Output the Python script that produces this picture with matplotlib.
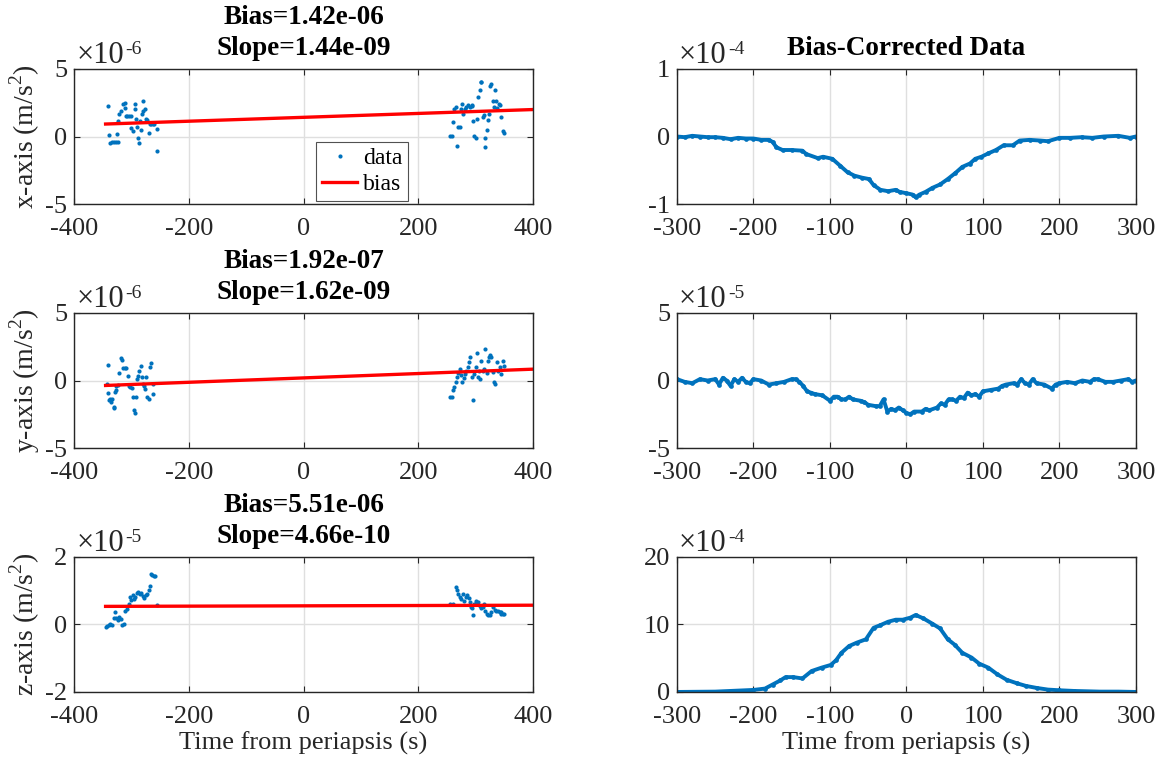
#accelerometer bias fit near periapsis and the bias-corrected data
import numpy as np
import matplotlib.pyplot as plt

plt.rcParams["font.family"] = ["Liberation Serif", "DejaVu Serif"]
plt.rcParams["mathtext.fontset"] = "custom"
plt.rcParams["mathtext.rm"] = "Liberation Serif"
plt.rcParams["axes.unicode_minus"] = False

BLUE = "#0072BD"
RED = "#FF0000"
DARK = "#262626"

#fit results (bias, slope) for each axis:
bias_vals = [1.42e-06, 1.92e-07, 5.51e-06]
slope_vals = [1.44e-09, 1.62e-09, 4.66e-10]
fit_span = [-345, 400]

#x-axis raw samples (units 1e-6 m/s^2):
x_t = [-340, -339, -337, -333, -330, -327, -324, -325, -323, -321, -318, -314, -312, -311,
       -310, -308, -305, -301, -300, -297, -294, -293, -292, -290, -289, -287, -285, -284,
       -282, -280, -279, -277, -275, -273, -270, -268, -266, -263, -260, -256, -255,
       255, 259, 261, 263, 265, 268, 270, 272, 274, 276, 278, 281, 284, 287, 290, 293, 294,
       296, 298, 300, 302, 305, 307, 309, 310, 312, 314, 316, 317, 319, 321, 323, 325, 327,
       330, 332, 334, 336, 338, 341, 343, 345, 347, 349]
x_v = [2.29, 0.12, -0.5, -0.42, -0.40, -0.42, -0.42, 0.2, 1.18, 1.67, 1.9, 2.4, 2.5, 2.1,
       1.55, 1.5, 1.5, 1.55, 0.64, 0.44, 2.0, 2.4, 1.3, 0.7, -0.1, -0.5, 1.18, 0.5,
       1.67, 1.9, 2.6, 2.0, 1.3, 1.2, 0.25, 0.93, 0.93, 0.93, 0.93, 0.56, -1.08,
       0.07, 0.07, 1.06, 2.04, 2.2, -0.74, 0.69, 0.69, 2.04, 2.4, 1.67, 2.04, 2.2, 2.3, 2.2, 2.29, 2.35,
       1.18, 0.07, -0.1, 1.3, 2.9, 3.45, 4.06, 4.06, 1.43, 1.6, -0.8, -0.12, 0.5, 1.2, 1.67,
       3.77, 3.9, 2.66, 2.2, 3.45, 2.66, 2.1, 2.4, 2.35, 1.43, 0.44, 0.25]

#y-axis raw samples (units 1e-6 m/s^2):
y_t = [-343, -341, -340, -339, -337, -335, -333, -331, -330, -329, -327, -326, -324, -322,
       -319, -317, -314, -312, -309, -306, -304, -302, -299, -297, -295, -294, -292, -290,
       -288, -286, -284, -282, -280, -278, -276, -274, -272, -270, -268, -266, -263, -262,
       255, 259, 261, 263, 265, 268, 270, 272, 274, 277, 280, 282, 284, 286, 288, 290, 293,
       295, 297, 300, 302, 304, 306, 308, 310, 312, 314, 317, 319, 321, 323, 325, 327, 330,
       332, 334, 337, 339, 342, 344, 347, 349]
y_v = [-0.24, 1.15, -0.93, -1.46, -1.34, -1.6, -1.4, -1.95, -2.0, -0.85, -0.73, -0.44, -0.3, 0.54,
       1.66, 1.5, 0.93, 0.93, 0.93, 0.37, -0.44, -0.49, -0.54, -1.22, -2.2, -2.44, -1.22, 0.12,
       0.37, 0.68, 1.1, 0.29, -0.29, -0.37, -0.61, 0.24, -1.22, -1.34, 0.98, 1.27, -1.02, -0.29,
       -1.22, -1.22, -0.73, -0.49, -0.12, 0.24, 0.54, 0.85, 0.44, -0.12, 0.2, 0.49, 0.73, 0.98, 1.34,
       1.76, 0.24, -1.41, 0.49, 0.98, 2.0, 0.24, 0.68, 0.12, 1.46, 0.73, 0.85, 2.32, 0.54, 1.46,
       1.76, 1.9, 1.76, 0.61, -0.12, -0.24, 1.34, 0.73, 1.02, 0.49, 1.46, 1.1]

#z-axis raw samples (units 1e-5 m/s^2):
z_t = [-344, -342, -339, -337, -334, -331, -328, -326, -323, -321, -318, -316, -313, -311,
       -308, -305, -303, -300, -298, -295, -293, -290, -288, -285, -283, -280, -278, -275,
       -273, -270, -268, -266, -264, -261, -258, -256,
       256, 261, 265, 268, 270, 273, 275, 278, 280, 283, 285, 288, 290, 292, 294, 296, 298,
       300, 302, 305, 307, 310, 312, 315, 317, 320, 322, 325, 327, 330, 333, 336, 339, 342,
       344, 345, 347, 349]
z_v = [-0.08, -0.05, -0.02, 0.0, -0.02, 0.2, 0.36, 0.2, 0.12, 0.22, 0.15, -0.02, 0.0, 0.41,
       0.46, 0.61, 0.81, 0.73, 0.86, 0.76, 0.81, 0.93, 0.96, 0.89, 0.93, 0.83, 0.79, 0.86,
       0.91, 1.01, 1.14, 1.5, 1.47, 1.44, 1.44, 0.59,
       0.61, 0.61, 1.1, 1.01, 0.89, 0.81, 0.76, 0.91, 0.69, 0.81, 0.86, 0.79, 0.66, 0.53, 0.49,
       0.28, 0.61, 0.69, 0.63, 0.66, 0.56, 0.49, 0.53, 0.61, 0.41, 0.3, 0.28, 0.28, 0.36, 0.51,
       0.43, 0.39, 0.41, 0.36, 0.32, 0.36, 0.3, 0.32]

#bias-corrected x (units 1e-4):
cx_t = [-300, -290, -280, -270, -260, -250, -240, -230, -220, -210, -200, -190, -180, -175,
        -170, -162, -150, -136, -131, -116, -109, -97, -87, -77, -68, -58, -49, -43, -34, -24,
        -14, -9, 0, 8, 12, 17, 25, 34, 44, 54, 64, 73, 83, 90, 98, 107, 117, 127, 139, 148,
        161, 175, 185, 200, 214, 229, 243, 258, 277, 292, 300]
cx_v = [0.0, -0.01, 0.01, 0.0, -0.01, -0.01, -0.02, -0.04, -0.02, -0.03, -0.03, -0.05, -0.05, -0.08,
        -0.16, -0.2, -0.2, -0.21, -0.26, -0.32, -0.3, -0.33, -0.43, -0.53, -0.58, -0.61, -0.63,
        -0.72, -0.79, -0.81, -0.79, -0.82, -0.84, -0.86, -0.9, -0.86, -0.82, -0.76, -0.71, -0.63,
        -0.54, -0.45, -0.4, -0.33, -0.3, -0.25, -0.2, -0.13, -0.13, -0.06, -0.05, -0.06, -0.07,
        -0.02, -0.02, -0.01, -0.02, 0.0, 0.01, -0.02, 0.0]

#bias-corrected y (units 1e-5):
cy_t = [-300, -290, -280, -270, -260, -250, -245, -240, -235, -230, -225, -220, -215, -210,
        -205, -200, -190, -180, -170, -160, -150, -145, -140, -135, -130, -125, -120, -110,
        -100, -95, -90, -85, -80, -75, -70, -60, -55, -50, -40, -35, -30, -25, -20, -15, -10,
        -5, 0, 5, 10, 20, 25, 30, 40, 45, 50, 55, 60, 65, 70, 75, 80, 85, 90, 95, 100, 110,
        120, 125, 130, 140, 145, 150, 155, 160, 165, 170, 180, 190, 195, 200, 210, 220, 230,
        240, 245, 250, 260, 270, 280, 290, 295, 300]
cy_v = [0.1, -0.1, -0.2, 0.1, 0.0, 0.1, -0.3, 0.2, 0.0, -0.4, 0.1, -0.1, 0.2, -0.1,
        -0.2, 0.1, 0.0, -0.3, -0.2, -0.1, 0.1, 0.1, -0.1, -0.4, -0.8, -0.9, -1.0, -1.1,
        -1.5, -1.2, -1.2, -1.4, -1.4, -1.2, -1.4, -1.5, -1.6, -1.8, -1.9, -1.9, -1.4, -2.3, -2.1,
        -2.2, -2.0, -2.2, -2.4, -2.5, -2.3, -2.3, -2.1, -2.2, -2.0, -1.7, -1.8, -1.4, -1.4, -1.5,
        -1.2, -1.3, -0.9, -1.1, -1.0, -1.2, -0.8, -0.7, -0.6, -0.4, -0.3, -0.2, -0.3, 0.1, -0.2,
        -0.3, 0.1, -0.2, -0.3, -0.6, -0.3, -0.2, -0.1, -0.2, 0.0, -0.1, 0.1, 0.1, -0.1, -0.1,
        0.0, 0.1, -0.1, 0.0]

#bias-corrected z (units 1e-4):
cz_t = [-300, -250, -220, -200, -185, -175, -165, -158, -148, -136, -124, -111, -99, -92, -85,
        -75, -65, -53, -43, -34, -24, -14, -5, 5, 12, 22, 34, 44, 54, 63, 73, 85, 95, 107,
        119, 131, 144, 156, 170, 185, 200, 219, 253, 277, 300]
cz_v = [0.0, 0.05, 0.2, 0.3, 0.5, 1.1, 1.7, 2.2, 2.2, 2.0, 3.1, 3.6, 4.0, 4.7, 5.8,
        6.8, 7.3, 7.8, 9.5, 9.9, 10.4, 10.7, 10.7, 11.0, 11.4, 10.9, 10.1, 9.4, 7.8, 7.0, 5.8,
        5.1, 4.2, 3.6, 2.6, 1.8, 1.3, 0.9, 0.6, 0.35, 0.25, 0.15, 0.05, 0.05, 0.0]

raw_sets = [(x_t, x_v, 1e-6, -6, "x-axis", [-5, 0, 5]),
            (y_t, y_v, 1e-6, -6, "y-axis", [-5, 0, 5]),
            (z_t, z_v, 1e-5, -5, "z-axis", [-2, 0, 2])]
corr_sets = [(cx_t, cx_v, -4, [-1, 0, 1]),
             (cy_t, cy_v, -5, [-5, 0, 5]),
             (cz_t, cz_v, -4, [0, 10, 20])]

fig = plt.figure(figsize=(11.64, 7.63), dpi=100)
bottoms = [0.7326, 0.4128, 0.0931]
h = 0.177
w = 0.3943


def style(ax, yticks, expo):
    ax.set_yticks(yticks)
    ax.set_ylim(yticks[0], yticks[-1])
    ax.grid(True, color="#dfdfdf", linewidth=1.0)
    ax.set_axisbelow(True)
    ax.tick_params(direction="in", length=4, width=0.8, top=True, right=True,
                   labelsize=19, colors=DARK)
    ax.tick_params(axis="x", pad=10)
    ax.tick_params(axis="y", pad=5)
    for s in ax.spines.values():
        s.set_color(DARK)
        s.set_linewidth(1.0)
    #exponent label in matlab style: x10 with a raised power
    ax.annotate("\u00d710", xy=(0, 1), xycoords="axes fraction", xytext=(1.5, 4.5),
                textcoords="offset points", fontsize=22, color=DARK,
                ha="left", va="baseline")
    ax.annotate(str(expo), xy=(0, 1), xycoords="axes fraction", xytext=(37, 10.5),
                textcoords="offset points", fontsize=14, color=DARK,
                ha="left", va="baseline")


for i, (t, v, sc, expo, name, yt) in enumerate(raw_sets):
    ax = fig.add_axes([0.0636, bottoms[i], w, h])
    ax.plot(t, v, "o", color=BLUE, ms=3.0, mec="none", label="data")
    fx = np.array(fit_span)
    ax.plot(fx, (bias_vals[i] + slope_vals[i] * fx) / sc, color=RED, lw=2.4, label="bias")
    ax.set_xlim(-400, 400)
    ax.set_xticks([-400, -200, 0, 200, 400])
    style(ax, yt, expo)
    ax.set_ylabel(name + " (m/s$^2$)", fontsize=20, color=DARK, labelpad=2)
    ax.set_title("Bias=%.2e\nSlope=%.2e" % (bias_vals[i], slope_vals[i]),
                 fontsize=19.5, fontweight="bold", pad=10, linespacing=1.3)
    if i == 0:
        leg = ax.legend(loc="lower left", bbox_to_anchor=(0.527, 0.02), fontsize=17,
                        frameon=True, fancybox=False, edgecolor=DARK, numpoints=1,
                        handlelength=1.5, handletextpad=0.25, borderpad=0.25,
                        labelspacing=0.2, borderaxespad=0)
        leg.get_frame().set_linewidth(0.8)
    if i == 2:
        ax.set_xlabel("Time from periapsis (s)", fontsize=19, color=DARK, labelpad=3)

for i, (t, v, expo, yt) in enumerate(corr_sets):
    ax = fig.add_axes([0.5816, bottoms[i], w, h])
    ax.plot(t, v, "-o", color=BLUE, ms=3.4, lw=2.8, mec="none")
    ax.set_xlim(-300, 300)
    ax.set_xticks([-300, -200, -100, 0, 100, 200, 300])
    style(ax, yt, expo)
    if i == 0:
        ax.set_title("Bias-Corrected Data", fontsize=19.5, fontweight="bold", pad=10)
    if i == 2:
        ax.set_xlabel("Time from periapsis (s)", fontsize=19, color=DARK, labelpad=3)

plt.savefig("out.png", dpi=100)
